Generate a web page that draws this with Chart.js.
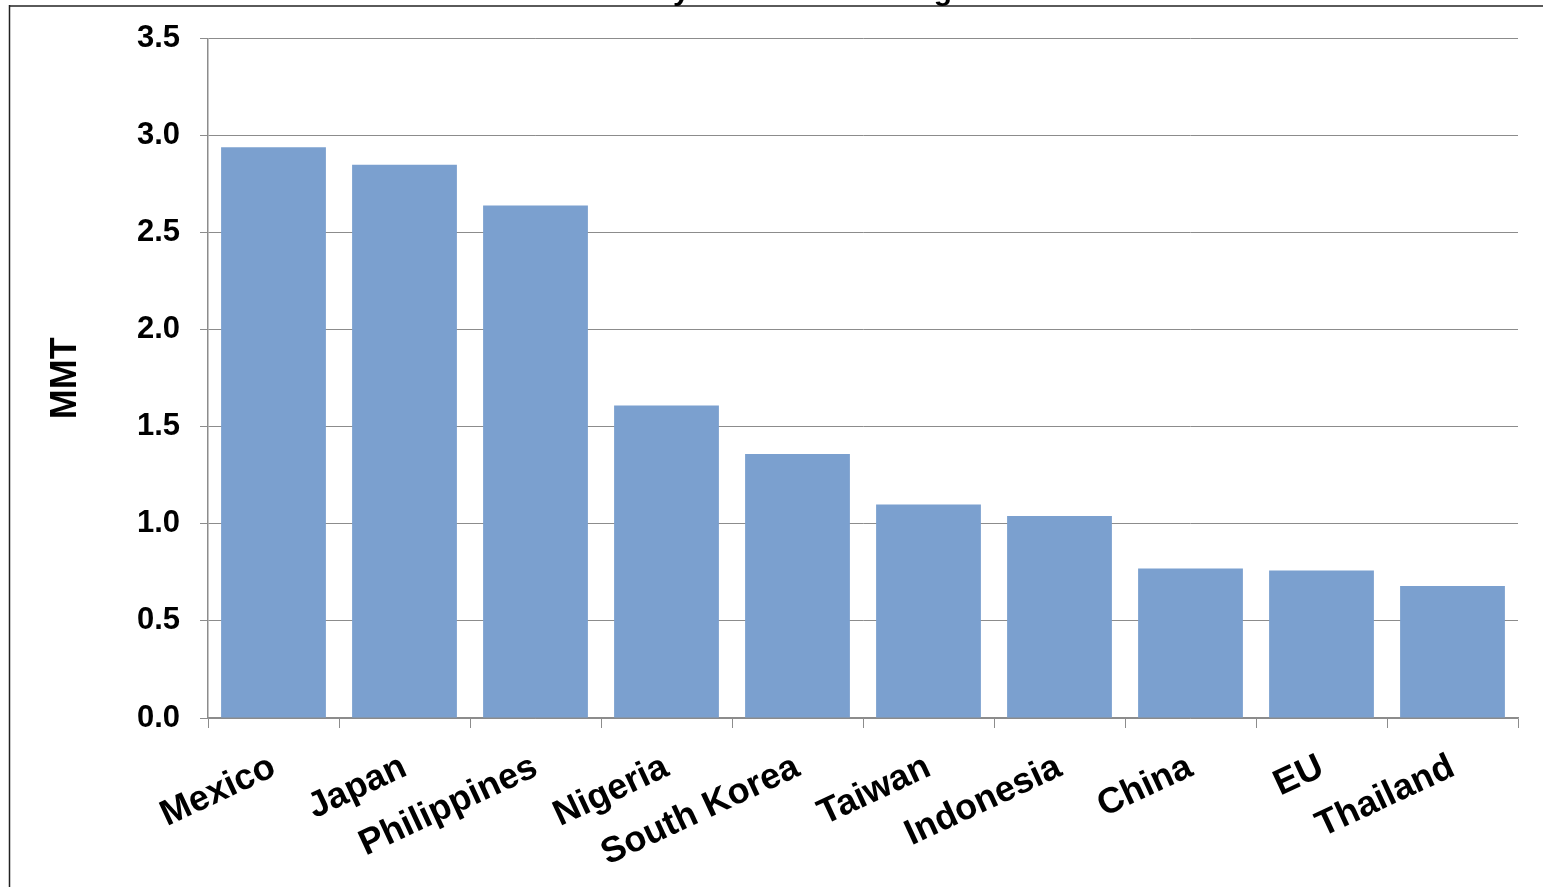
<!DOCTYPE html>
<html>
<head>
<meta charset="utf-8">
<script src="https://cdn.jsdelivr.net/npm/chart.js@4.4.0/dist/chart.umd.min.js"></script>
<style>
  html, body { margin: 0; padding: 0; background: #ffffff; }
  #wrap { position: relative; width: 1543px; height: 887px; }
  canvas { display: block; }
</style>
</head>
<body>
<div id="wrap"><canvas id="chart" width="1543" height="887"></canvas></div>
<script>
// Wheat buyers, million metric tons
const categories = ['Mexico', 'Japan', 'Philippines', 'Nigeria', 'South Korea', 'Taiwan', 'Indonesia', 'China', 'EU', 'Thailand'];
const volumes = [2.94, 2.85, 2.64, 1.61, 1.36, 1.10, 1.04, 0.77, 0.76, 0.68];
const yTicks = [0, 0.5, 1.0, 1.5, 2.0, 2.5, 3.0, 3.5];
const axisTitle = 'MMT';
const chartTitle = 'U.S. Wheat Buyers: 5-Year Average';

const FONT = '"Liberation Sans", Arial, sans-serif';
const GRID = '#8c8c8c';

// Outer frame lines and the heading, which sits mostly above the visible area
const framePlugin = {
  id: 'frame',
  beforeDraw(chart) {
    const ctx = chart.ctx;
    ctx.save();
    ctx.fillStyle = '#ffffff';
    ctx.fillRect(0, 0, chart.width, chart.height);
    ctx.restore();
  },
  afterDraw(chart) {
    const ctx = chart.ctx;
    ctx.save();
    ctx.strokeStyle = '#5a5a5a';
    ctx.lineWidth = 2;
    ctx.beginPath();
    ctx.moveTo(9, 6);
    ctx.lineTo(chart.width, 6);
    ctx.stroke();
    ctx.strokeStyle = '#222222';
    ctx.lineWidth = 1.5;
    ctx.beginPath();
    ctx.moveTo(9.5, 5);
    ctx.lineTo(9.5, chart.height);
    ctx.stroke();
    ctx.font = 'bold 30px ' + FONT;
    ctx.fillStyle = '#000000';
    ctx.textBaseline = 'alphabetic';
    ctx.textAlign = 'left';
    const prefix = chartTitle.slice(0, chartTitle.indexOf('y'));
    const x0 = 673 - ctx.measureText(prefix).width;
    ctx.fillText(chartTitle, x0, 0);
    ctx.restore();
  }
};

new Chart(document.getElementById('chart'), {
  type: 'bar',
  data: {
    labels: categories,
    datasets: [{
      data: volumes,
      backgroundColor: '#7ba0cf',
      borderWidth: 0,
      barPercentage: 0.8,
      categoryPercentage: 1.0
    }]
  },
  plugins: [framePlugin],
  options: {
    responsive: false,
    animation: false,
    layout: { padding: { left: 44, right: 25, top: 37, bottom: 0 } },
    plugins: { legend: { display: false }, tooltip: { enabled: false }, title: { display: false } },
    scales: {
      x: {
        offset: true,
        grid: { offset: true, drawOnChartArea: false, color: GRID, tickLength: 10, lineWidth: 1 },
        border: { color: GRID, width: 1.5 },
        ticks: {
          color: '#000000',
          font: { family: FONT, size: 36, weight: 'bold' },
          minRotation: 25, maxRotation: 25,
          autoSkip: false, padding: 18
        },
        afterFit(scale) { scale.height = 887 - 718; }
      },
      y: {
        min: 0, max: 3.5,
        afterBuildTicks(scale) { scale.ticks = yTicks.map(v => ({ value: v })); },
        grid: { color: GRID, tickLength: 8, lineWidth: 1 },
        border: { color: GRID, width: 1.5 },
        ticks: {
          color: '#000000',
          font: { family: FONT, size: 31, weight: 'bold' },
          padding: 20,
          callback: v => Number(v).toFixed(1)
        },
        title: {
          display: true, text: axisTitle, color: '#000000',
          font: { family: FONT, size: 36, weight: 'bold' },
          padding: { top: 0, bottom: 35 }
        },
        afterFit(scale) { scale.width = 208 - 44; }
      }
    }
  }
});
</script>
</body>
</html>
